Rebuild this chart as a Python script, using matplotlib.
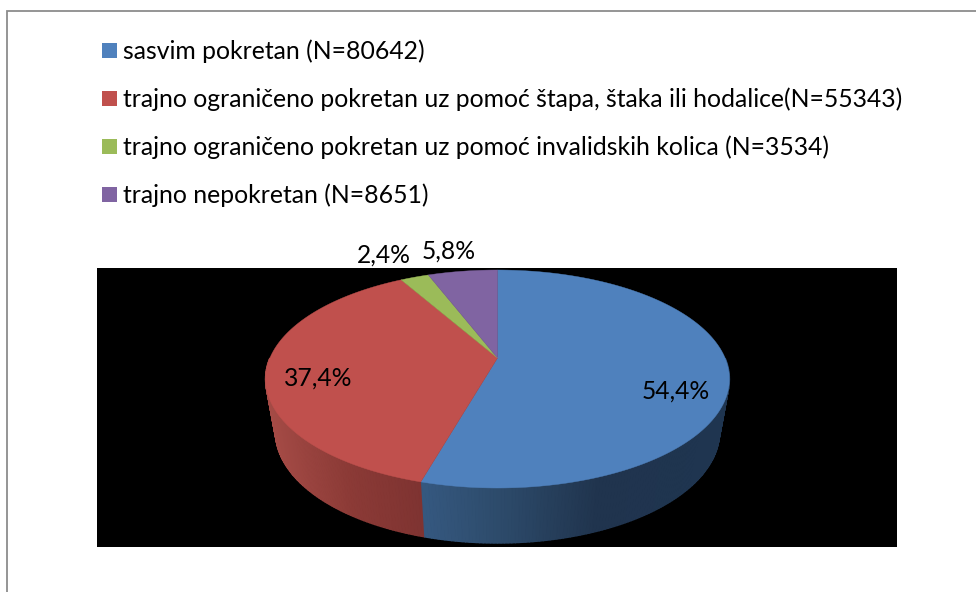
import numpy as np
import matplotlib
matplotlib.use("Agg")
import matplotlib.pyplot as plt
from matplotlib.patches import Rectangle

plt.rcParams['font.family'] = ['Lato', 'DejaVu Sans']

# data
labels = ["sasvim pokretan (N=80642)",
          "trajno ograničeno pokretan uz pomoć štapa, štaka ili hodalice(N=55343)",
          "trajno ograničeno pokretan uz pomoć invalidskih kolica (N=3534)",
          "trajno nepokretan (N=8651)"]
values = [80642, 55343, 3534, 8651]
pct_labels = ["54,4%", "37,4%", "2,4%", "5,8%"]
colors = ["#4f81bd", "#c0504d", "#9bbb59", "#8064a2"]

# pie geometry in image pixels
CX, CY = 497.5, 358.0
K = 0.1927
RX, RY = 227.6, 104.95
EL_CY, EL_RX, EL_RY = 379.0, 232.0, 109.0
BOT_CY, BOT_RX, BOT_RY = 432.0, 222.0, 111.0


def project(a):
    # circle angle (deg, math convention) to tilted pie top with perspective
    a = np.radians(a)
    x, y = np.cos(a), np.sin(a)
    d = 1 + K * y
    return CX + RX * x / d, CY - RY * y / d


def bottom(px, py):
    # rim point of the top face to matching point of the lower rim
    c = (px - CX) / EL_RX
    s = (EL_CY - py) / EL_RY
    return CX + BOT_RX * c, BOT_CY - BOT_RY * s


def wall_color(px, xs, cs):
    rgb = np.array([matplotlib.colors.to_rgb(c) for c in cs])
    return [np.interp(px, xs, rgb[:, i]) for i in range(3)]


fig = plt.figure(figsize=(9.76, 5.92), dpi=100)
ax = fig.add_axes([0, 0, 1, 1])
ax.set_xlim(0, 976)
ax.set_ylim(592, 0)
ax.axis("off")

# outer frame, only left and top are visible
ax.plot([7, 7, 976], [592, 10.5, 10.5], color="#8c8c8c", lw=1.3, solid_joinstyle="miter")

ax.add_patch(Rectangle((97, 268), 800, 279, facecolor="black", edgecolor="none"))

# slice angles, clockwise from 12 o'clock
fractions = np.array(values) / sum(values)
edges = 90 - 360 * np.concatenate([[0], np.cumsum(fractions)])

# side wall of the two front slices
blue_xs, blue_cs = [425, 500, 600, 720], ["#35587f", "#2d4b6b", "#20344e", "#1f3550"]
red_xs, red_cs = [268, 350, 425], ["#a54b46", "#8b3a36", "#7e3331"]
wall_angles = np.linspace(-180, 0, 241)
for a0, a1 in zip(wall_angles[:-1], wall_angles[1:]):
    x0, y0 = project(a0)
    x1, y1 = project(a1)
    bx0, by0 = bottom(x0, y0)
    bx1, by1 = bottom(x1, y1)
    if (a0 + a1) / 2 > edges[1]:
        col = wall_color((x0 + x1) / 2, blue_xs, blue_cs)
    else:
        col = wall_color((x0 + x1) / 2, red_xs, red_cs)
    ax.fill([x0, x1, bx1, bx0], [y0, y1, by1, by0], color=col, lw=1.0)

# top face
for i in range(len(values)):
    ang = np.linspace(edges[i], edges[i + 1], 200)
    xs, ys = project(ang)
    ax.fill(np.r_[CX, xs], np.r_[CY, ys], color=colors[i], lw=0.3)

# legend
legend_y = [50.5, 98.5, 146.5, 194.5]
for lab, col, y in zip(labels, colors, legend_y):
    ax.add_patch(Rectangle((102, y - 7.5), 15, 15, facecolor=col, edgecolor="none"))
    ax.text(123, y + 1, lab, fontsize=17.85, va="center", ha="left", color="black")

# percent labels
pct_pos = [(676, 391), (318, 378), (384, 255), (449, 251)]
for txt, (x, y) in zip(pct_labels, pct_pos):
    ax.text(x, y, txt, fontsize=17.7, va="center", ha="center", color="black")

fig.savefig("out.png", dpi=100)
